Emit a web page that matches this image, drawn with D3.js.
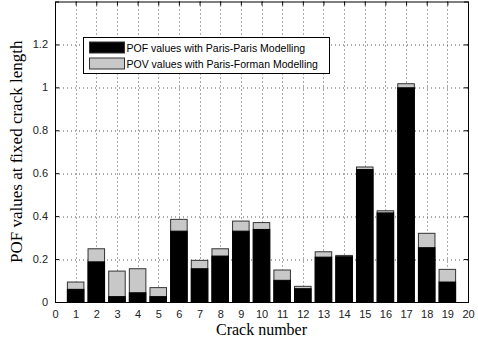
<!DOCTYPE html>
<html>
<head>
<meta charset="utf-8">
<script src="https://cdn.jsdelivr.net/npm/d3@7"></script>
<style>
  html, body { margin: 0; padding: 0; background: #fff; }
  svg { display: block; }
</style>
</head>
<body>
<div id="vis"></div>
<script>
// crack numbers 1..19
const cracks = [1, 2, 3, 4, 5, 6, 7, 8, 9, 10, 11, 12, 13, 14, 15, 16, 17, 18, 19];
// POF, Paris-Paris modelling (black)
const pofValues = [0.059, 0.187, 0.025, 0.043, 0.025, 0.33, 0.155, 0.214, 0.33, 0.338,
                   0.101, 0.062, 0.209, 0.211, 0.617, 0.415, 0.998, 0.253, 0.093];
// POV, Paris-Forman modelling (grey)
const povValues = [0.093, 0.248, 0.144, 0.155, 0.067, 0.385, 0.194, 0.248, 0.377, 0.37,
                   0.149, 0.073, 0.234, 0.217, 0.629, 0.425, 1.017, 0.32, 0.152];
const xTicks = d3.range(0, 21);
const yTicks = [0, 0.2, 0.4, 0.6, 0.8, 1, 1.2];
const legendLabels = ["POF values with Paris-Paris Modelling", "POV values with Paris-Forman Modelling"];

const W = 478, H = 343;
const m = {left: 55, right: 10, top: 1.5, bottom: 41};
const iw = W - m.left - m.right, ih = H - m.top - m.bottom;

const svg = d3.select("#vis").append("svg")
  .attr("width", W).attr("height", H);

const g = svg.append("g").attr("transform", `translate(${m.left},${m.top})`);

const x = d3.scaleLinear().domain([0, 20]).range([0, iw]);
const y = d3.scaleLinear().domain([0, 1.4]).range([ih, 0]);
const bw = (x(1) - x(0)) * 0.8;

// grid
g.append("g").selectAll("line")
  .data(xTicks.slice(1, -1))
  .join("line")
  .attr("x1", d => Math.round(x(d)) + 0.5).attr("x2", d => Math.round(x(d)) + 0.5)
  .attr("y1", 0).attr("y2", ih)
  .attr("stroke", "#555").attr("stroke-width", 1).attr("stroke-dasharray", "1,3");
g.append("g").selectAll("line")
  .data(yTicks.slice(1))
  .join("line")
  .attr("x1", 0).attr("x2", iw)
  .attr("y1", d => Math.round(y(d)) + 0.5).attr("y2", d => Math.round(y(d)) + 0.5)
  .attr("stroke", "#555").attr("stroke-width", 1).attr("stroke-dasharray", "1,3");

// bars: grey behind, black in front
g.append("g").selectAll("rect")
  .data(cracks)
  .join("rect")
  .attr("x", (d) => x(d) - bw / 2)
  .attr("width", bw)
  .attr("y", (d, i) => y(povValues[i]))
  .attr("height", (d, i) => ih - y(povValues[i]))
  .attr("fill", "#c8c8c8").attr("stroke", "#333").attr("stroke-width", 1);
g.append("g").selectAll("rect")
  .data(cracks)
  .join("rect")
  .attr("x", (d) => x(d) - bw / 2)
  .attr("width", bw)
  .attr("y", (d, i) => y(pofValues[i]))
  .attr("height", (d, i) => ih - y(pofValues[i]))
  .attr("fill", "#000").attr("stroke", "#000").attr("stroke-width", 1);

// axes (ticks inward, on all four sides)
const fontTick = "Liberation Sans, Arial, sans-serif";
const xAxis = g.append("g").attr("transform", `translate(0,${ih})`)
  .call(d3.axisBottom(x).tickValues(xTicks).tickSize(-4).tickPadding(8).tickFormat(d3.format("d")));
const yAxis = g.append("g")
  .call(d3.axisLeft(y).tickValues(yTicks).tickSize(-4).tickPadding(7).tickFormat(d => d === 0 ? "0" : d3.format("~g")(d)));
const xTop = g.append("g")
  .call(d3.axisTop(x).tickValues(xTicks).tickSize(-4).tickFormat(""));
const yRight = g.append("g").attr("transform", `translate(${iw},0)`)
  .call(d3.axisRight(y).tickValues(yTicks).tickSize(-4).tickFormat(""));
[xAxis, yAxis, xTop, yRight].forEach(a => {
  a.selectAll("path").attr("stroke", "#000");
  a.selectAll("line").attr("stroke", "#000");
  a.selectAll("text").attr("fill", "#222").style("font-family", fontTick).style("font-size", "11px");
});

// axis titles
svg.append("text")
  .attr("x", m.left + iw / 2).attr("y", 335)
  .attr("text-anchor", "middle")
  .style("font-family", "Liberation Serif, Times New Roman, serif").style("font-size", "16px")
  .text("Crack number");
svg.append("text")
  .attr("transform", `translate(22,${m.top + ih / 2}) rotate(-90)`)
  .attr("text-anchor", "middle")
  .style("font-family", "Liberation Serif, Times New Roman, serif").style("font-size", "17px")
  .text("POF values at fixed crack length");

// legend
const lg = svg.append("g").attr("transform", "translate(83.5,37.5)");
lg.append("rect").attr("width", 246).attr("height", 36)
  .attr("fill", "#fff").attr("stroke", "#000").attr("stroke-width", 1);
const legendFill = ["#000", "#c8c8c8"];
legendLabels.forEach((t, i) => {
  lg.append("rect").attr("x", 6).attr("y", 4.5 + i * 16).attr("width", 35).attr("height", 11)
    .attr("fill", legendFill[i]).attr("stroke", "#333");
  lg.append("text").attr("x", 43).attr("y", 14.5 + i * 15.5)
    .style("font-family", fontTick).style("font-size", "10.5px").attr("fill", "#000")
    .text(t);
});
</script>
</body>
</html>
